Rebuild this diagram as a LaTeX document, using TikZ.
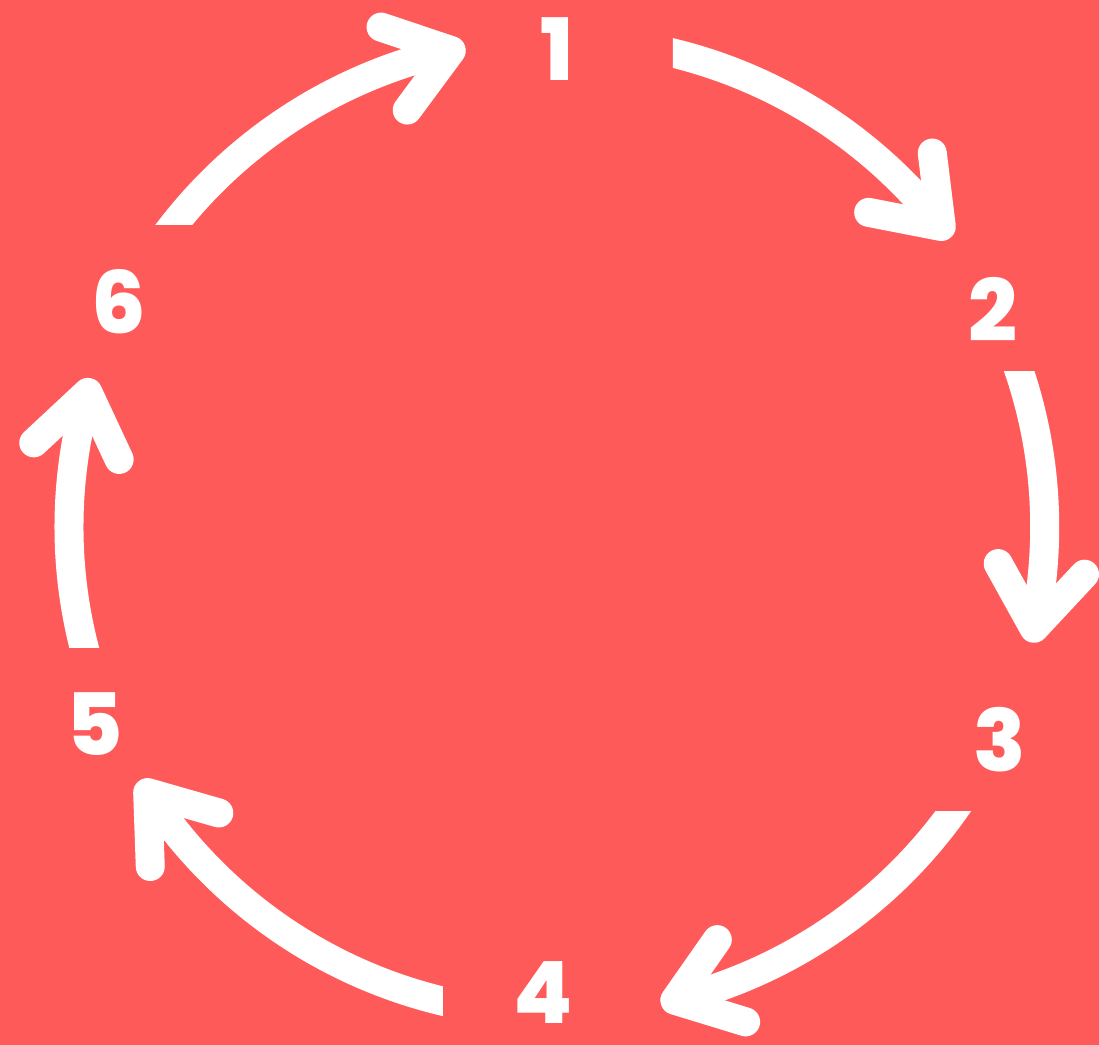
\documentclass[tikz,border=0pt]{standalone}
\usepackage{fontspec}
\newfontfamily\pop{Poppins}[UprightFont=* ExtraBold]
\usetikzlibrary{calc}
\definecolor{bgred}{HTML}{FF5A5A}
\tikzset{
  num/.style={text=white, inner sep=0pt, font=\pop\fontsize{86}{86}\selectfont},
  shaft/.style={draw=white, line width=29pt, line cap=butt},
  head/.style={draw=white, line width=29pt, line cap=round, line join=round}
}
\begin{document}
\begin{tikzpicture}[x=1pt,y=-1pt]
\fill[bgred] (0,0) rectangle (1099,1045);
\coordinate (c) at (557,527);
\node[num] (n1) at (557,49) {1};
\node[num] (n2) at (993,310) {2};
\node[num] (n3) at (1000,740) {3};
\node[num] (n4) at (543,993) {4};
\node[num] (n5) at (95,724) {5};
\node[num] (n6) at (119,302) {6};
\foreach \s/\e/\k/\cx/\cy/\dx/\dy in {
  -80/-38/a/673/0/1099/1045,
  -23/12/b/0/372/1099/1045,
  31/76/c/0/812/1099/1045,
  99/147/d/0/0/443/1045,
  161/196/e/0/0/1099/648,
  214/257.5/f/0/0/1099/225}{
  \pgfmathsetmacro{\aa}{\e+301}
  \pgfmathsetmacro{\ab}{\e+229}
  \begin{scope}
    \clip (\cx,\cy) rectangle (\dx,\dy);
    \draw[shaft] ($(c)+(\s:488)$) coordinate (start\k) arc[start angle=\s, end angle=\e, radius=488] coordinate (tip\k);
  \end{scope}
  \draw[head] ($(tip\k)+(\aa:74)$) -- (tip\k) -- ($(tip\k)+(\ab:74)$);
}
\end{tikzpicture}
\end{document}
